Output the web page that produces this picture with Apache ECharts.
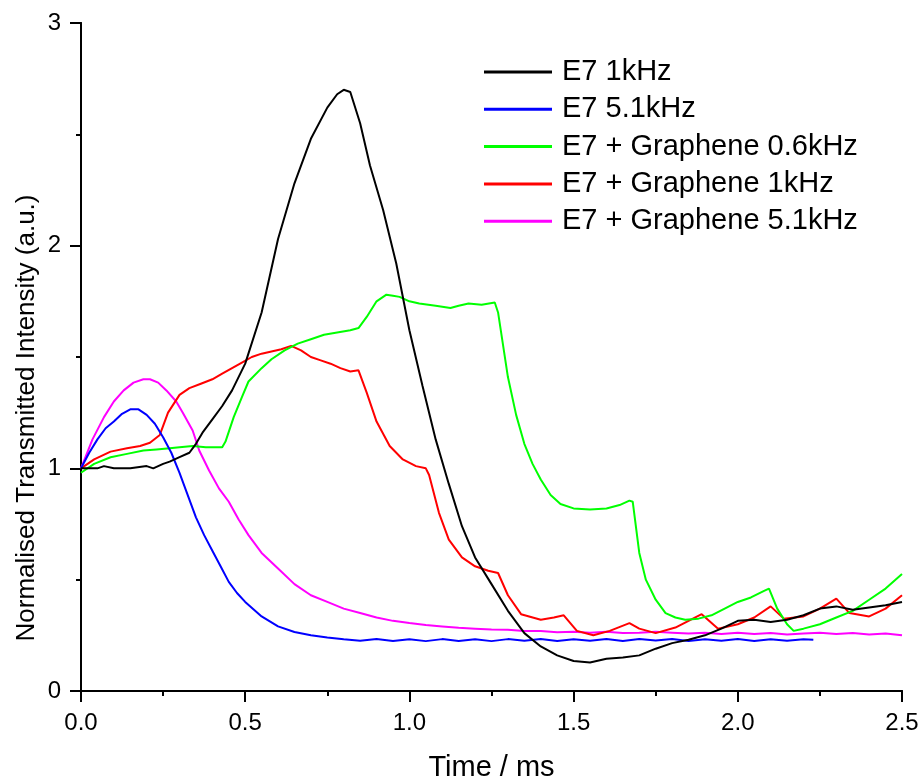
<!DOCTYPE html>
<html>
<head>
<meta charset="utf-8">
<script src="https://cdn.jsdelivr.net/npm/echarts@6/dist/echarts.min.js"></script>
<style>
  html, body { margin: 0; padding: 0; background: #fff; overflow: hidden; }
  #chart { width: 923px; height: 780px; }
</style>
</head>
<body>
<div id="chart"></div>
<script>
// Time (ms) / normalised intensity pairs for each sample and drive frequency
const e7_1k = [
  [0,1.0],[0.05,1.0],[0.07,1.01],[0.1,1.0],[0.15,1.0],[0.2,1.01],[0.22,1.0],[0.25,1.02],[0.27,1.03],
  [0.3,1.05],[0.33,1.07],[0.35,1.11],[0.37,1.16],[0.4,1.22],[0.43,1.28],[0.46,1.35],[0.5,1.47],
  [0.55,1.70],[0.6,2.03],[0.65,2.28],[0.7,2.48],[0.75,2.62],[0.78,2.68],[0.8,2.70],[0.82,2.69],
  [0.85,2.55],[0.88,2.36],[0.92,2.16],[0.96,1.92],[1.0,1.62],[1.04,1.37],[1.08,1.13],[1.12,0.93],
  [1.16,0.74],[1.2,0.60],[1.25,0.48],[1.3,0.36],[1.35,0.26],[1.4,0.20],[1.45,0.16],[1.5,0.135],
  [1.55,0.128],[1.6,0.145],[1.65,0.15],[1.7,0.16],[1.75,0.19],[1.8,0.215],[1.85,0.23],[1.9,0.25],
  [1.95,0.28],[2.0,0.315],[2.05,0.32],[2.1,0.31],[2.15,0.32],[2.2,0.34],[2.25,0.37],[2.3,0.38],
  [2.35,0.365],[2.4,0.375],[2.45,0.385],[2.5,0.40]
];

const e7_5k1 = [
  [0,1.0],[0.025,1.07],[0.05,1.13],[0.075,1.18],[0.1,1.21],[0.125,1.245],[0.15,1.265],[0.175,1.265],
  [0.2,1.24],[0.225,1.2],[0.25,1.14],[0.275,1.07],[0.3,0.98],[0.325,0.88],[0.35,0.78],[0.375,0.70],
  [0.4,0.63],[0.425,0.56],[0.45,0.49],[0.475,0.44],[0.5,0.40],[0.55,0.335],[0.6,0.29],[0.65,0.265],
  [0.7,0.25],[0.75,0.24],[0.8,0.232],[0.85,0.226],[0.9,0.234],[0.95,0.225],[1.0,0.232],[1.05,0.224],
  [1.1,0.233],[1.15,0.225],[1.2,0.232],[1.25,0.224],[1.3,0.233],[1.35,0.226],[1.4,0.234],[1.45,0.225],
  [1.5,0.232],[1.55,0.226],[1.6,0.234],[1.65,0.225],[1.7,0.233],[1.75,0.227],[1.8,0.234],[1.85,0.225],
  [1.9,0.232],[1.95,0.226],[2.0,0.233],[2.05,0.225],[2.1,0.232],[2.15,0.226],[2.2,0.232],[2.23,0.23]
];

const g_0k6 = [
  [0,0.98],[0.04,1.02],[0.09,1.05],[0.14,1.065],[0.19,1.08],[0.23,1.085],[0.27,1.09],[0.3,1.095],
  [0.34,1.10],[0.38,1.095],[0.43,1.095],[0.44,1.12],[0.465,1.23],[0.49,1.32],[0.51,1.39],[0.55,1.45],
  [0.58,1.49],[0.62,1.53],[0.66,1.56],[0.7,1.58],[0.74,1.60],[0.78,1.61],[0.82,1.62],[0.845,1.63],
  [0.87,1.68],[0.9,1.75],[0.93,1.78],[0.95,1.775],[0.97,1.77],[1.0,1.75],[1.03,1.74],[1.08,1.73],
  [1.125,1.72],[1.15,1.73],[1.18,1.74],[1.22,1.735],[1.26,1.745],[1.27,1.70],[1.3,1.41],[1.325,1.24],
  [1.35,1.11],[1.375,1.02],[1.4,0.95],[1.43,0.88],[1.46,0.84],[1.5,0.82],[1.55,0.815],[1.6,0.82],
  [1.64,0.835],[1.67,0.855],[1.68,0.85],[1.70,0.62],[1.72,0.50],[1.75,0.41],[1.78,0.35],[1.81,0.33],
  [1.84,0.32],[1.88,0.325],[1.92,0.34],[1.96,0.37],[2.0,0.40],[2.04,0.42],[2.08,0.45],[2.095,0.46],
  [2.12,0.37],[2.15,0.30],[2.17,0.27],[2.2,0.28],[2.25,0.30],[2.3,0.33],[2.35,0.36],[2.4,0.41],
  [2.45,0.46],[2.5,0.525]
];

const g_1k = [
  [0,1.0],[0.04,1.04],[0.09,1.075],[0.14,1.09],[0.18,1.10],[0.21,1.115],[0.24,1.15],[0.265,1.25],
  [0.3,1.33],[0.33,1.36],[0.365,1.38],[0.4,1.40],[0.43,1.425],[0.46,1.45],[0.49,1.475],[0.52,1.50],
  [0.55,1.515],[0.58,1.525],[0.61,1.535],[0.64,1.55],[0.67,1.53],[0.7,1.50],[0.73,1.485],[0.76,1.47],
  [0.79,1.45],[0.82,1.435],[0.845,1.44],[0.87,1.34],[0.9,1.21],[0.94,1.10],[0.98,1.04],[1.02,1.01],
  [1.05,1.0],[1.06,0.97],[1.09,0.80],[1.12,0.68],[1.16,0.60],[1.2,0.56],[1.24,0.54],[1.27,0.53],
  [1.3,0.43],[1.34,0.345],[1.4,0.32],[1.44,0.33],[1.47,0.34],[1.51,0.27],[1.56,0.25],[1.61,0.27],
  [1.67,0.305],[1.7,0.28],[1.75,0.26],[1.81,0.285],[1.89,0.345],[1.94,0.28],[2.0,0.30],[2.05,0.33],
  [2.1,0.38],[2.14,0.325],[2.2,0.335],[2.25,0.37],[2.3,0.415],[2.34,0.35],[2.4,0.335],[2.45,0.37],
  [2.5,0.43]
];

const g_5k1 = [
  [0,1.0],[0.035,1.13],[0.07,1.23],[0.1,1.30],[0.13,1.35],[0.16,1.385],[0.19,1.40],[0.21,1.40],
  [0.235,1.385],[0.26,1.35],[0.29,1.30],[0.31,1.25],[0.34,1.17],[0.36,1.08],[0.39,0.99],[0.42,0.91],
  [0.45,0.85],[0.48,0.77],[0.51,0.70],[0.55,0.62],[0.6,0.55],[0.65,0.48],[0.7,0.43],[0.75,0.40],
  [0.8,0.37],[0.85,0.35],[0.9,0.33],[0.95,0.315],[1.0,0.305],[1.05,0.296],[1.1,0.29],[1.15,0.284],
  [1.2,0.28],[1.25,0.276],[1.3,0.275],[1.35,0.27],[1.4,0.27],[1.45,0.264],[1.5,0.266],[1.55,0.262],
  [1.6,0.266],[1.65,0.26],[1.7,0.262],[1.75,0.266],[1.8,0.262],[1.85,0.258],[1.9,0.262],[1.95,0.256],
  [2.0,0.262],[2.05,0.256],[2.1,0.26],[2.15,0.254],[2.2,0.258],[2.25,0.262],[2.3,0.256],[2.35,0.26],
  [2.4,0.254],[2.45,0.258],[2.5,0.25]
];

const seriesNames = [
  'E7 1kHz',
  'E7 5.1kHz',
  'E7 + Graphene 0.6kHz',
  'E7 + Graphene 1kHz',
  'E7 + Graphene 5.1kHz'
];
const seriesData = [e7_1k, e7_5k1, g_0k6, g_1k, g_5k1];
const seriesColors = ['#000000', '#0000ff', '#00ff00', '#ff0000', '#ff00ff'];

const FONT = 'Arial, "Liberation Sans", sans-serif';

const chart = echarts.init(document.getElementById('chart'), null, {
  renderer: 'canvas', width: 923, height: 780
});

const axisLine = { show: true, lineStyle: { color: '#000', width: 2 } };
const tickStyle = { color: '#000', width: 2 };

chart.setOption({
  backgroundColor: '#fff',
  animation: false,
  grid: {
    left: 81, width: 821, top: 23, height: 668,
    containLabel: false,
    outerBoundsMode: 'none'
  },
  legend: {
    orient: 'vertical',
    left: 484,
    top: 57,
    padding: 0,
    itemWidth: 68,
    itemHeight: 3,
    itemGap: 7.3,
    icon: 'rect',
    textStyle: { fontFamily: FONT, fontSize: 29, color: '#000', padding: [0, 0, 0, 5], lineHeight: 30 },
    data: seriesNames
  },
  xAxis: [
    {
      type: 'value', min: 0, max: 2.5, interval: 0.5, position: 'bottom',
      axisLine: axisLine,
      axisTick: { show: true, inside: false, length: 11, lineStyle: tickStyle },
      minorTick: { show: true, splitNumber: 2, length: 5, lineStyle: tickStyle },
      splitLine: { show: false },
      axisLabel: { fontFamily: FONT, fontSize: 24, color: '#000', margin: 20, formatter: v => v.toFixed(1) },
      name: 'Time / ms', nameLocation: 'middle', nameGap: 62,
      nameTextStyle: { fontFamily: FONT, fontSize: 29, color: '#000' }
    },
    {
      type: 'value', min: 0, max: 2.5, interval: 0.5, position: 'top',
      axisLine: axisLine,
      axisTick: { show: true, inside: true, length: 11, lineStyle: tickStyle },
      minorTick: { show: true, splitNumber: 2, length: 5, lineStyle: tickStyle },
      splitLine: { show: false },
      axisLabel: { show: false }
    }
  ],
  yAxis: [
    {
      type: 'value', min: 0, max: 3, interval: 1, position: 'left',
      axisLine: axisLine,
      axisTick: { show: true, inside: false, length: 11, lineStyle: tickStyle },
      minorTick: { show: true, splitNumber: 2, length: 5, lineStyle: tickStyle },
      splitLine: { show: false },
      axisLabel: { fontFamily: FONT, fontSize: 24, color: '#000', margin: 20 }
    },
    {
      type: 'value', min: 0, max: 3, interval: 1, position: 'right',
      axisLine: axisLine,
      axisTick: { show: true, inside: true, length: 11, lineStyle: tickStyle },
      minorTick: { show: true, splitNumber: 2, length: 5, lineStyle: tickStyle },
      splitLine: { show: false },
      axisLabel: { show: false }
    }
  ],
  graphic: [
    {
      type: 'text',
      x: 27, y: 418,
      rotation: Math.PI / 2,
      style: {
        text: 'Normalised Transmitted Intensity (a.u.)',
        font: '26px ' + FONT,
        fill: '#000',
        align: 'center',
        verticalAlign: 'middle'
      }
    }
  ],
  series: seriesData.map((d, i) => ({
    name: seriesNames[i],
    type: 'line',
    xAxisIndex: 0,
    yAxisIndex: 0,
    data: d,
    showSymbol: false,
    symbol: 'none',
    smooth: false,
    lineStyle: { color: seriesColors[i], width: 2 },
    itemStyle: { color: seriesColors[i] },
    z: 5 - i
  }))
});
</script>
</body>
</html>
